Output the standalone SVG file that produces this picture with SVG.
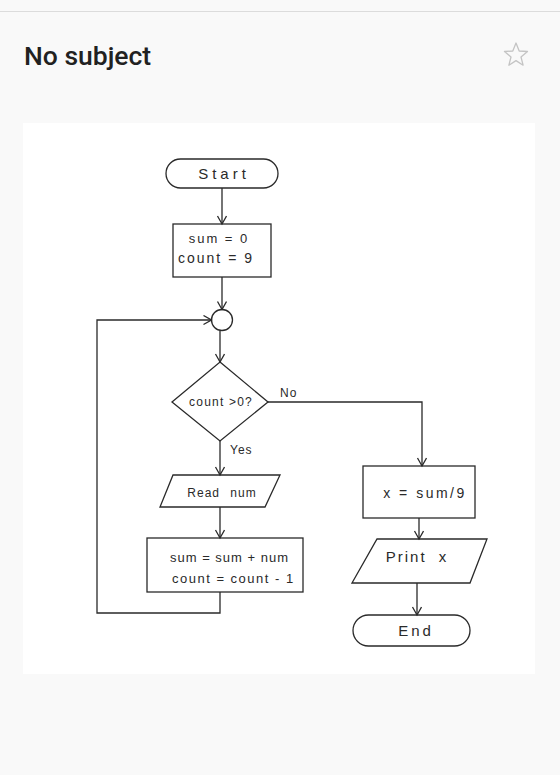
<svg xmlns="http://www.w3.org/2000/svg" width="560" height="775" viewBox="0 0 560 775">
<style>
.shape{fill:none;stroke:#2a2a2a;stroke-width:1.3}
.wire{fill:none;stroke:#2a2a2a;stroke-width:1.3}
.hand{font-family:"Liberation Sans","DejaVu Sans",sans-serif;fill:#2a2a2a}
</style>
<defs>
<marker id="arr" markerUnits="userSpaceOnUse" markerWidth="12" markerHeight="12" refX="9" refY="5" orient="auto">
<path d="M1,0.5 L9,5 L1,9.5" fill="none" stroke="#2a2a2a" stroke-width="1.3"/>
</marker>
</defs>
<rect x="0" y="0" width="560" height="775" fill="#f9f9f9"/>
<line x1="0" y1="11.5" x2="560" y2="11.5" stroke="#dcdcdc" stroke-width="1"/>
<text x="24" y="65" font-family="Roboto,'Liberation Sans',sans-serif" font-weight="500" font-size="26.5" fill="#212121">No subject</text>
<polygon points="516,43 519.2,51 527.5,51.5 521,57 523.1,65.2 516,60.6 508.9,65.2 511,57 504.5,51.5 512.8,51" fill="none" stroke="#c4c4c4" stroke-width="1.3" stroke-linejoin="round"/>
<rect x="23" y="123" width="512" height="551" fill="#ffffff"/>

<g id="start">
<rect class="shape" x="166" y="159" width="112" height="29" rx="14.5"/>
<text class="hand" x="224" y="179" text-anchor="middle" font-size="15" letter-spacing="4">Start</text>
</g>
<g id="init">
<rect class="shape" x="173" y="224" width="98" height="53"/>
<text class="hand" x="219" y="243" text-anchor="middle" font-size="13" letter-spacing="2">sum = 0</text>
<text class="hand" x="216" y="263" text-anchor="middle" font-size="14" letter-spacing="2">count = 9</text>
</g>
<g id="join">
<circle class="shape" cx="222" cy="320" r="10.5"/>
</g>
<g id="decision">
<polygon class="shape" points="220,362 268,402 220,441 172,402"/>
<text class="hand" x="221" y="406" text-anchor="middle" font-size="12" letter-spacing="1.2">count &gt;0?</text>
</g>
<g id="read">
<polygon class="shape" points="173,475 280,475 265,507 160,507"/>
<text class="hand" x="222" y="497" text-anchor="middle" font-size="12" letter-spacing="1" word-spacing="6">Read num</text>
</g>
<g id="update">
<rect class="shape" x="147" y="538" width="156" height="54"/>
<text class="hand" x="170" y="562" font-size="13" letter-spacing="1">sum = sum + num</text>
<text class="hand" x="172" y="583" font-size="13" letter-spacing="1.5">count = count - 1</text>
</g>
<g id="average">
<rect class="shape" x="363" y="466" width="112" height="52"/>
<text class="hand" x="425" y="498" text-anchor="middle" font-size="14" letter-spacing="2.5">x = sum/9</text>
</g>
<g id="print">
<polygon class="shape" points="377,539 487,539 470,583 352,583"/>
<text class="hand" x="417" y="562" text-anchor="middle" font-size="15" letter-spacing="2" word-spacing="6">Print x</text>
</g>
<g id="end">
<rect class="shape" x="353" y="615" width="117" height="31" rx="15.5"/>
<text class="hand" x="416" y="636" text-anchor="middle" font-size="15" letter-spacing="3">End</text>
</g>

<g id="connectors">
<path class="wire" d="M222,188 L222,224" marker-end="url(#arr)"/>
<path class="wire" d="M222,277 L222,309.5" marker-end="url(#arr)"/>
<path class="wire" d="M220,331 L220,362" marker-end="url(#arr)"/>
<path class="wire" d="M220,441 L220,475" marker-end="url(#arr)"/>
<path class="wire" d="M268,402 L422,402 L422,466" marker-end="url(#arr)"/>
<path class="wire" d="M220,507 L220,538" marker-end="url(#arr)"/>
<path class="wire" d="M220,592 L220,613 L97,613 L97,320 L211.5,320" marker-end="url(#arr)"/>
<path class="wire" d="M419,518 L419,539" marker-end="url(#arr)"/>
<path class="wire" d="M417,583 L417,615" marker-end="url(#arr)"/>
<text class="hand" x="280" y="397" font-size="12" letter-spacing="1">No</text>
<text class="hand" x="230" y="454" font-size="12" letter-spacing="1">Yes</text>
</g>
</svg>
